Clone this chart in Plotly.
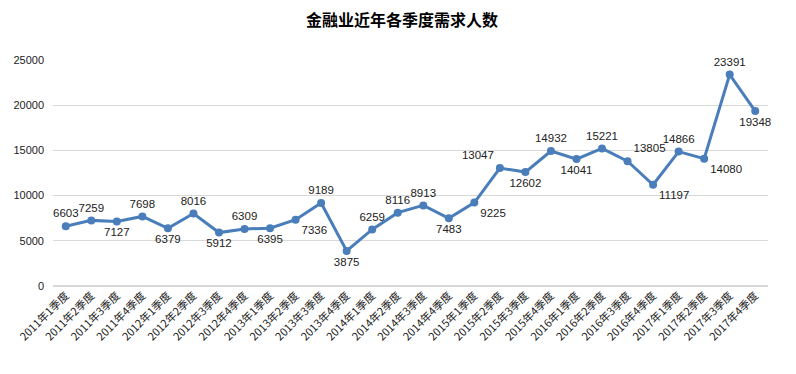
import plotly.graph_objects as go

categories = [f"{y}年{q}季度" for y in range(2011, 2018) for q in range(1, 5)]
values = [6603, 7259, 7127, 7698, 6379, 8016, 5912, 6309, 6395, 7336, 9189, 3875,
          6259, 8116, 8913, 7483, 9225, 13047, 12602, 14932, 14041, 15221, 13805,
          11197, 14866, 14080, 23391, 19348]
label_pos = ["top center", "top center", "bottom center", "top center", "bottom center",
             "top center", "bottom center", "top center", "bottom center", "bottom right",
             "top center", "bottom center", "top center", "top center", "top center",
             "bottom center", "bottom right", "top left", "bottom center", "top center",
             "bottom center", "top center", "top right", "bottom right", "top center",
             "bottom right", "top center", "bottom center"]
y_ticks = [0, 5000, 10000, 15000, 20000, 25000]

font_fam = "Liberation Sans, Noto Sans CJK SC, sans-serif"

fig = go.Figure(go.Scatter(
    x=categories, y=values, mode="lines+markers+text",
    line=dict(color="#4A7EBB", width=3),
    marker=dict(color="#4A7EBB", size=8),
    text=[str(v) for v in values], textposition=label_pos,
    textfont=dict(family=font_fam, size=11.5, color="#222"),
    cliponaxis=False, hoverinfo="x+y"
))

# page body has an 8px margin, so the figure is sized/offset to compensate
fig.update_layout(
    width=788, height=366,
    margin=dict(l=45, r=28, t=52, b=88, autoexpand=False),
    paper_bgcolor="white", plot_bgcolor="white",
    title=dict(text="<b>金融业近年各季度需求人数</b>", x=0.5, xanchor="center",
               y=0.966, yanchor="middle",
               font=dict(family="Noto Sans CJK SC, sans-serif", size=16, color="#000")),
    showlegend=False,
    font=dict(family=font_fam, size=11, color="#222"),
)
fig.update_xaxes(type="category", range=[-0.5, len(categories) - 0.5],
                 tickangle=-45, showgrid=False, showline=False,
                 ticks="", automargin=False,
                 tickfont=dict(family="Noto Sans CJK SC, sans-serif", size=11, color="#222"))
fig.update_yaxes(range=[0, 25000], tickvals=y_ticks, ticktext=[str(t) for t in y_ticks],
                 showgrid=True, gridcolor="#D9D9D9", gridwidth=1, zeroline=True,
                 zerolinecolor="#D9D9D9", showline=False, ticks="", ticklabelstandoff=8,
                 automargin=False, tickfont=dict(size=11, color="#222"))

fig.write_html("out.html")
